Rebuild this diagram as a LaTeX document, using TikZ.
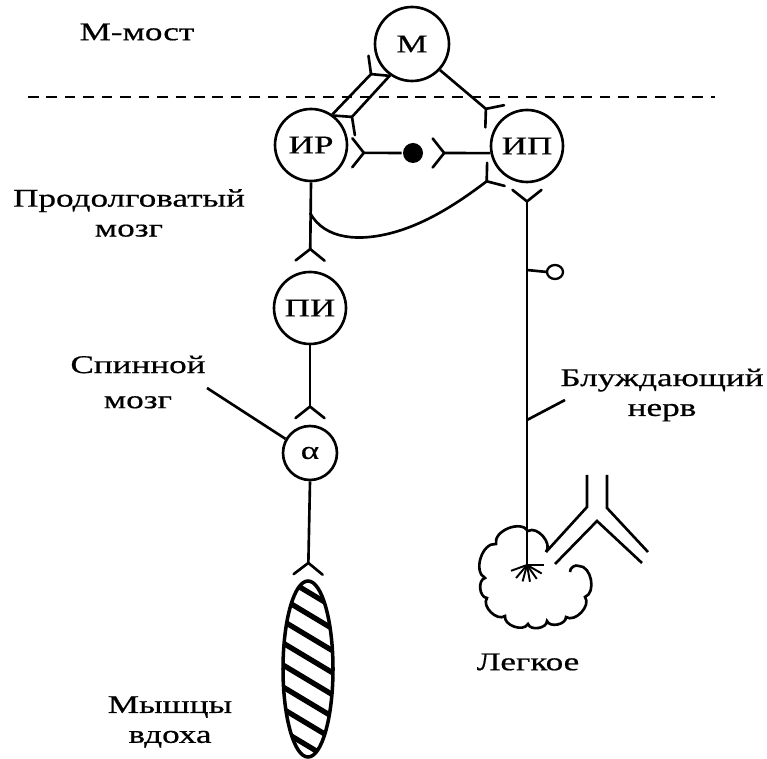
\documentclass[tikz,border=0pt]{standalone}
\usepackage{fontspec}
\setmainfont{Liberation Serif}[FakeStretch=1.38,FakeBold=0.6]
\usetikzlibrary{arrows.meta}
\tikzset{
  neuron/.style={circle,draw,line width=1.5pt,inner sep=0pt,minimum size=1.44cm,font=\fontsize{14.5}{16}\selectfont},
  syn/.style={-{Straight Barb[reversed,length=2.3mm,width=5.8mm,line cap=round]}},
  lbl/.style={align=center,font=\fontsize{14.5}{17}\selectfont},
}
\begin{document}
\begin{tikzpicture}[x=0.02cm,y=-0.02cm,line width=1.5pt]
  \useasboundingbox (0,0) rectangle (767,759);
  % border between pons and medulla
  \draw[line width=1.1pt,dash pattern=on 6pt off 4.5pt] (28,97) -- (715,97);
  % neurons
  \node[neuron,minimum size=1.48cm] (m) at (412,44) {М};
  \node[neuron] (ir) at (311,145) {ИР};
  \node[neuron] (ip) at (527,146) {ИП};
  \node[neuron] (pi) at (310,308) {ПИ};
  \node[neuron,minimum size=1.08cm] (a) at (310,453) {α};
  \node[circle,fill,inner sep=0pt,minimum size=0.4cm] (dot) at (413,153) {};
  % connections in the brain stem
  \draw[syn] (ir.55) -- (m.213);
  \draw[syn] (m.235) -- (ir.30);
  \draw[syn,shorten >=3pt] (m.317) -- (ip.137);
  \draw[syn,shorten >=2pt] (dot.west) -- (ir.-12);
  \draw[syn,shorten >=4pt] (ip.191) -- (dot.east);
  \draw[syn,shorten >=5pt] (ir.south) -- (pi.north);
  \coordinate (jn) at (310,213);
  \draw[syn,shorten >=2pt] (jn) .. controls (325,240) and (360,242) .. (395,232)
     .. controls (430,222) and (462,200) .. (ip.223);
  % spinal cord
  \coordinate (sc) at (207,388);
  \draw (sc) -- (a.150);
  \draw[syn,shorten >=3pt] (pi.south) -- (a.north);
  % inspiratory muscle
  \coordinate (mt) at (308,581);
  \draw[syn,shorten >=3pt] (a.south) -- (mt);
  \begin{scope}
    \clip (308,669) ellipse [x radius=25,y radius=88];
    \foreach \k in {-1,...,8}
      \draw[line width=3pt] (258,562+22*\k) -- ++(100,60);
  \end{scope}
  \draw[line width=2pt] (308,669) ellipse [x radius=25,y radius=88];
  % vagus nerve
  \coordinate (lc) at (527,565);
  \draw[syn,shorten >=3pt] (lc) -- (ip.south);
  \coordinate (rc) at (527,270);
  \draw (rc) -- (547,272);
  \draw[line width=1.3pt] (555,272) ellipse [x radius=8,y radius=7];
  \coordinate (bc) at (527,420);
  \draw (bc) -- (565,400);
  \foreach \t in {0,30,55,80,105,130,160}
    \draw[line width=1.1pt] (lc) -- ++(\t:17);
  % lung
  \draw (546,552) to[bend right=80] (528,531) to[bend right=80] (496,544)
    to[bend right=80] (485,578) to[bend right=80] (487,598)
    to[bend right=80] (505,616) to[bend right=80] (528,624)
    to[bend right=80] (547,621) to[bend right=80] (566,617)
    to[bend right=80] (585,597) to[bend right=80] (579,566)
    to[bend right=60] (570,572);
  \draw (587,475) -- (587,507) -- (546,552);
  \draw (607,475) -- (607,508) -- (648,552);
  \draw (555,564) -- (597,521) -- (642,563);
  % labels
  \node[lbl] (most) at (137,32) {М-мост};
  \node[lbl] (medulla) at (129,213) {Продолговатый\\мозг};
  \node[lbl] (spinal) at (138,382) {Спинной\\[3pt]мозг};
  \node[lbl] (vagus) at (662,395) {Блуждающий\\нерв};
  \node[lbl] (lung) at (528,662) {Легкое};
  \node[lbl] (muscle) at (170,722) {Мышцы\\вдоха};
\end{tikzpicture}
\end{document}
